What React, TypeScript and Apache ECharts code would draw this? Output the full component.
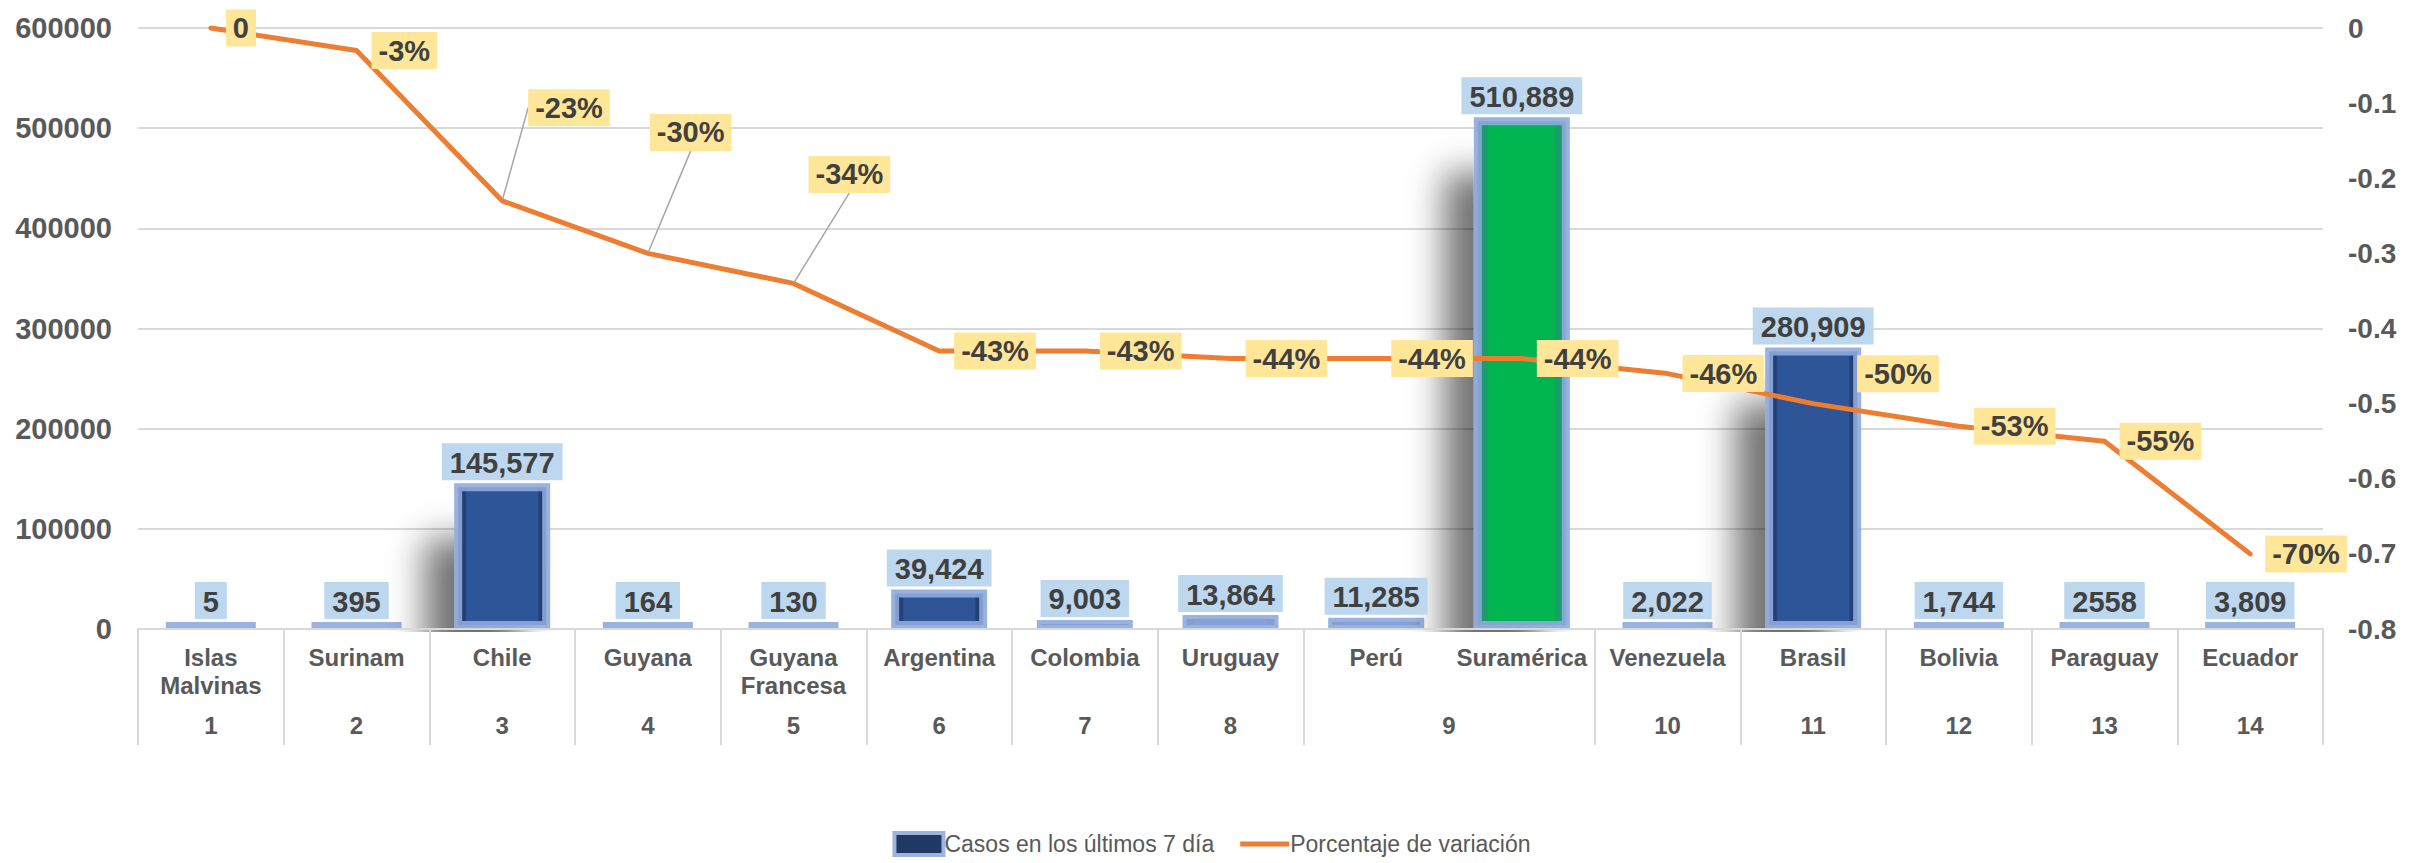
import React, { useEffect, useRef } from "react";
import * as echarts from "echarts";

const categories = [
  "Islas\nMalvinas", "Surinam", "Chile", "Guyana", "Guyana\nFrancesa", "Argentina", "Colombia",
  "Uruguay", "Perú", "Suramérica", "Venezuela", "Brasil", "Bolivia", "Paraguay", "Ecuador",
];
const groups = ["1", "2", "3", "4", "5", "6", "7", "8", "9", "9", "10", "11", "12", "13", "14"];
const cases = [5, 395, 145577, 164, 130, 39424, 9003, 13864, 11285, 510889, 2022, 280909, 1744, 2558, 3809];
const caseLabels = [
  "5", "395", "145,577", "164", "130", "39,424", "9,003", "13,864", "11,285", "510,889",
  "2,022", "280,909", "1,744", "2558", "3,809",
];
const variation = [0, -0.03, -0.23, -0.3, -0.34, -0.43, -0.43, -0.44, -0.44, -0.44, -0.46, -0.5, -0.53, -0.55, -0.7];
const highlighted = "Suramérica";
const seriesNames = ["Casos en los últimos 7 día", "Porcentaje de variación"];

const FONT = "'Liberation Sans', Arial, sans-serif";
const BAND = 2185 / 15;
const SHADOW_MIN = 100000; // only tall bars cast the visible drop shadow

// label moves (px) for line labels that sit away from their point
const labelShift: Record<number, [number, number]> = {
  2: [11, -93],
  3: [-13, -121],
  4: [0, -109],
  11: [29, -30],
};
const leaderIdx = [2, 3, 4];

function blueGrad() {
  return new echarts.graphic.LinearGradient(0, 0, 1, 0, [
    { offset: 0, color: "#1F3864" },
    { offset: 0.08, color: "#23427a" },
    { offset: 0.1, color: "#2F5597" },
    { offset: 0.9, color: "#2F5597" },
    { offset: 0.92, color: "#23427a" },
    { offset: 1, color: "#1F3864" },
  ]);
}
function greenGrad() {
  return new echarts.graphic.LinearGradient(0, 0, 1, 0, [
    { offset: 0, color: "#1a6f50" },
    { offset: 0.05, color: "#1A9C6E" },
    { offset: 0.12, color: "#1A9C6E" },
    { offset: 0.12, color: "#00B550" },
    { offset: 0.88, color: "#00B550" },
    { offset: 0.88, color: "#1A9C6E" },
    { offset: 1, color: "#1A9C6E" },
  ]);
}

export default function App() {
  const ref = useRef<HTMLDivElement>(null);
  useEffect(() => {
    if (!ref.current) return;
    const chart = echarts.init(ref.current, undefined, { renderer: "svg" });

    const groupAxisData = groups.map((g, i) => {
      if (i > 0 && groups[i - 1] === g) return "";
      if (i < groups.length - 1 && groups[i + 1] === g)
        return { value: g, textStyle: { padding: [0, 0, 0, BAND] } };
      return g;
    });

    const barData = cases.map((v, i) => {
      const style: any = { color: categories[i] === highlighted ? greenGrad() : blueGrad() };
      if (v >= SHADOW_MIN) {
        style.shadowColor = "rgba(0,0,0,0.55)";
        style.shadowBlur = 35;
        style.shadowOffsetX = -30;
        style.shadowOffsetY = 55;
      }
      return { value: v, itemStyle: style };
    });

    const lineData = variation.map((v, i) =>
      leaderIdx.includes(i) ? { value: v, labelLine: { show: true } } : v
    );

    chart.setOption({
      animation: false,
      backgroundColor: "#ffffff",
      textStyle: { fontFamily: FONT },
      grid: { left: 138, right: 100, top: 28, bottom: 234, containLabel: false },
      legend: {
        top: 826,
        left: "center",
        z: 10,
        itemWidth: 49,
        itemHeight: 22,
        itemGap: 26,
        textStyle: { fontSize: 23, color: "#595959", fontFamily: FONT, padding: [0, 0, 0, -4] },
        data: [
          {
            name: seriesNames[0],
            icon: "rect",
            itemStyle: { color: "#1F3864", borderColor: "#9DB3DE", borderWidth: 4 },
          },
          {
            name: seriesNames[1],
            icon: "path://M0,0 L57,0 L57,6 L0,6 Z",
            itemStyle: { color: "#ED7D31" },
          },
        ],
      },
      graphic: [
        {
          type: "rect",
          z: 5,
          shape: { x: 125, y: 632, width: 2212, height: 180 },
          style: { fill: "#ffffff" },
          silent: true,
        },
      ],
      xAxis: [
        {
          type: "category",
          data: categories,
          position: "bottom",
          z: 10,
          axisLine: { show: true, lineStyle: { color: "#D9D9D9", width: 2 } },
          axisTick: {
            show: true,
            length: 116,
            interval: (index: number) => !(index > 0 && groups[index] === groups[index - 1]),
            lineStyle: { color: "#D9D9D9", width: 2 },
          },
          axisLabel: {
            interval: 0,
            margin: 14,
            fontSize: 24,
            fontWeight: "bold",
            color: "#595959",
            lineHeight: 28,
            fontFamily: FONT,
          },
          splitLine: { show: false },
        },
        {
          type: "category",
          data: groupAxisData,
          position: "bottom",
          offset: 0,
          z: 10,
          axisLine: { show: false },
          axisTick: { show: false },
          axisLabel: {
            interval: 0,
            margin: 84,
            fontSize: 24,
            fontWeight: "bold",
            color: "#595959",
            fontFamily: FONT,
          },
          splitLine: { show: false },
        },
      ],
      yAxis: [
        {
          type: "value",
          min: 0,
          max: 600000,
          interval: 100000,
          position: "left",
          axisLine: { show: false },
          axisTick: { show: false },
          axisLabel: {
            margin: 26,
            fontSize: 29,
            fontWeight: "bold",
            color: "#595959",
            fontFamily: FONT,
            formatter: (v: number) => String(v),
          },
          splitLine: { show: true, lineStyle: { color: "#D9D9D9", width: 2 } },
        },
        {
          type: "value",
          min: -0.8,
          max: 0,
          interval: 0.1,
          position: "right",
          axisLine: { show: false },
          axisTick: { show: false },
          axisLabel: {
            margin: 25,
            fontSize: 28,
            fontWeight: "bold",
            color: "#595959",
            fontFamily: FONT,
            formatter: (v: number) => (Math.abs(v) < 1e-9 ? "0" : String(Math.round(v * 10) / 10)),
          },
          splitLine: { show: false },
        },
      ],
      series: [
        {
          name: seriesNames[0],
          type: "bar",
          xAxisIndex: 0,
          yAxisIndex: 0,
          data: barData,
          barWidth: 96,
          barMinHeight: 6,
          itemStyle: {
            borderColor: "rgba(143,170,220,0.9)",
            borderWidth: 8,
          },
          label: {
            show: true,
            position: "top",
            distance: 3,
            formatter: (p: any) => caseLabels[p.dataIndex],
            fontSize: 29,
            fontWeight: "bold",
            color: "#404040",
            fontFamily: FONT,
            backgroundColor: "#BDD7EE",
            padding: [5, 8, 3, 8],
          },
        },
        {
          name: seriesNames[1],
          type: "line",
          xAxisIndex: 0,
          yAxisIndex: 1,
          data: lineData,
          symbol: "circle",
          symbolSize: 2,
          showSymbol: true,
          itemStyle: { color: "#ED7D31" },
          lineStyle: { color: "#ED7D31", width: 5, cap: "round", join: "round" },
          z: 3,
          label: {
            show: true,
            position: "right",
            distance: 14,
            formatter: (p: any) => {
              const v = typeof p.value === "number" ? p.value : p.data.value;
              return Math.abs(v) < 1e-9 ? "0" : Math.round(v * 100) + "%";
            },
            fontSize: 29,
            fontWeight: "bold",
            color: "#404040",
            fontFamily: FONT,
            backgroundColor: "#FFE699",
            padding: [5, 7, 3, 7],
          },
          labelLine: { show: false, lineStyle: { color: "#A6A6A6", width: 1.5 } },
          labelLayout: (params: any) => {
            const s = labelShift[params.dataIndex];
            return s ? { dx: s[0], dy: s[1] } : {};
          },
        },
      ],
    });

    return () => chart.dispose();
  }, []);

  return (
    <div
      ref={ref}
      style={{ position: "fixed", left: 0, top: 0, width: "2423px", height: "863px", background: "#fff" }}
    />
  );
}
